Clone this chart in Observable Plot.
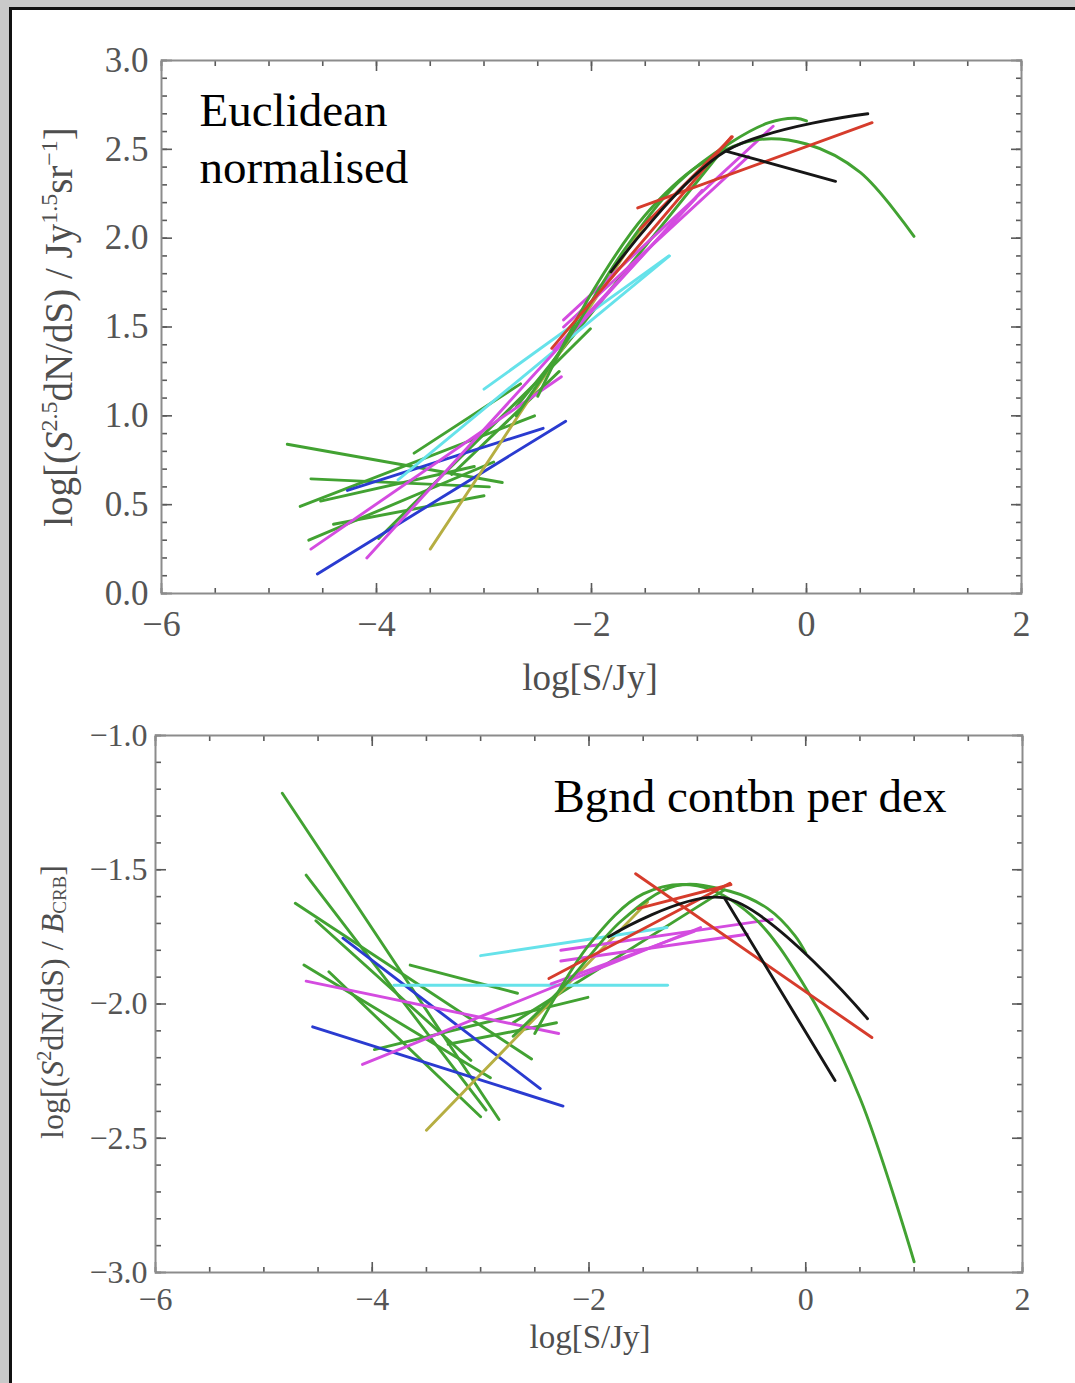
<!DOCTYPE html>
<html>
<head>
<meta charset="utf-8">
<script src="https://cdn.jsdelivr.net/npm/d3@7"></script>
<script src="https://cdn.jsdelivr.net/npm/@observablehq/plot@0.6"></script>
<style>
html, body { margin: 0; padding: 0; background: #c9c9c9; }
#page { position: relative; width: 1075px; height: 1383px; overflow: hidden; background: #c9c9c9; }
#panel { position: absolute; left: 9px; top: 7px; width: 1100px; height: 1420px; background: #fff; border-left: 3px solid #111; border-top: 3px solid #111; }
#top, #bottom { position: absolute; left: 0; }
#top { top: 0; }
#bottom { top: 700px; }
</style>
</head>
<body>
<div id="page"><div id="panel"></div><div id="top"></div><div id="bottom"></div></div>
<script>
// ---- data ----
const seriesName = ["G1","G2","G3","G4","G5","G6","G7","G8","G9","G10",
  "B1","B2","Y1","C1","C2","M1","M2","M3","M4","M5","GC1","GC2","R1","R2","R3","K1","K2"];
const seriesFamily = ["fam-g","fam-g","fam-g","fam-g","fam-g","fam-g","fam-g","fam-g","fam-g","fam-g",
  "fam-b","fam-b","fam-y","fam-c","fam-c","fam-m","fam-m","fam-m","fam-m","fam-m","fam-g","fam-g","fam-r","fam-r","fam-r","fam-k","fam-k"];
// log[S/Jy]
const seriesLogS = [
  [-4.83,-2.83],[-4.61,-2.95],[-4.71,-2.53],[-4.63,-2.91],[-4.40,-3.00],[-4.52,-3.09],[-3.65,-2.66],[-3.98,-2.01],[-3.30,-2.30],[-2.70,-0.75],
  [-4.55,-2.24],[-4.27,-2.45],[-3.50,-1.46],[-3.80,-1.275],[-3.00,-1.28],
  [-4.61,-2.28],[-4.09,-0.97],[-2.26,-0.31],[-2.26,-0.54],[-2.35,-1.03],
  [-2.5,-2.0,-1.5,-1.0,-0.5,0.0,0.5,1.0],
  [-2.7,-2.2,-1.7,-1.2,-0.7,-0.35,-0.1,0.0],
  [-1.57,0.61],[-2.37,-0.70],[-1.55,-0.69],
  [-1.82,-0.75,0.57],[-0.75,0.27]
];
// top panel: log[(S^2.5 dN/dS) / Jy^1.5 sr^-1]
const euclidNorm = [
  [0.84,0.625],[0.645,0.60],[0.49,1.00],[0.30,0.74],[0.39,0.55],[0.52,0.715],[0.79,1.18],[0.31,1.49],[0.67,1.25],[1.05,2.52],
  [0.11,0.97],[0.58,0.93],[0.25,2.12],[0.64,1.90],[1.15,1.90],
  [0.25,1.22],[0.20,2.27],[1.54,2.63],[1.50,2.46],[1.37,2.225],
  [1.11,1.69,2.13,2.41,2.55,2.53,2.37,2.01],
  [1.00,1.45,1.93,2.31,2.54,2.65,2.675,2.66],
  [2.17,2.65],[1.38,2.57],[2.05,2.57],
  [1.81,2.49,2.70],[2.49,2.32]
];
// bottom panel: log[(S^2 dN/dS) / B_CRB]
const bgndPerDex = [
  [-1.215,-2.43],[-1.52,-2.395],[-1.625,-2.205],[-1.855,-2.275],[-1.88,-2.42],[-1.69,-2.21],[-1.855,-1.96],[-2.17,-1.975],[-2.15,-2.07],[-2.07,-1.575],
  [-2.085,-2.38],[-1.755,-2.315],[-2.47,-1.62],[-1.93,-1.93],[-1.82,-1.715],
  [-1.915,-2.11],[-2.225,-1.715],[-1.80,-1.685],[-1.84,-1.74],[-1.925,-1.73],
  [-2.11,-1.78,-1.59,-1.56,-1.67,-1.94,-2.35,-2.96],
  [-2.12,-1.92,-1.69,-1.56,-1.58,-1.645,-1.745,-1.81],
  [-1.515,-2.125],[-1.905,-1.55],[-1.645,-1.555],
  [-1.75,-1.605,-2.055],[-1.605,-2.285]
];
const familyDomain = ["fam-g","fam-b","fam-m","fam-c","fam-y","fam-r","fam-k"];
const xMajorTicks = [-6,-4,-2,0,2];
const topYMajorTicks = [0,0.5,1,1.5,2,2.5,3];
const botYMajorTicks = [-3,-2.5,-2,-1.5,-1];
const panelNotes = ["Euclidean\nnormalised", "Bgnd contbn per dex"];
const xTitle = "log[S/Jy]";

// ---- styles ----
const familyColour = ["#42a232","#2a3bd0","#d44ce0","#66e2ea","#b6ae42","#d63c2c","#161616"];
const SERIF = "'Liberation Serif', 'Times New Roman', serif";

function makePanel(cfg) {
  const rows = [];
  seriesName.forEach((name, i) => {
    seriesLogS[i].forEach((x, j) => rows.push({name, family: seriesFamily[i], x, y: cfg.values[i][j]}));
  });
  const xMinor = d3.range(-6, 2.0001, 0.5);
  const yMinor = d3.range(cfg.domain[0], cfg.domain[1] + 1e-6, 0.1);
  const tc = {tickFormat: () => "", label: null, stroke: "#5a5a5a", strokeWidth: 1.6};
  return Plot.plot({
    width: 1075, height: cfg.height,
    marginTop: cfg.mt, marginBottom: cfg.mb, marginLeft: cfg.ml, marginRight: cfg.mr,
    x: {domain: [-6, 2], label: null},
    y: {domain: cfg.domain, label: null},
    color: {type: "ordinal", domain: familyDomain, range: familyColour},
    style: {background: "transparent", fontFamily: SERIF, overflow: "visible"},
    marks: [
      Plot.axisX(xMinor, {anchor: "bottom", tickSize: -5, ...tc}),
      Plot.axisX(xMinor, {anchor: "top", tickSize: -5, ...tc}),
      Plot.axisX(xMajorTicks, {anchor: "bottom", tickSize: -10, ...tc}),
      Plot.axisX(xMajorTicks, {anchor: "top", tickSize: -10, ...tc}),
      Plot.axisY(yMinor, {anchor: "left", tickSize: -6, ...tc}),
      Plot.axisY(yMinor, {anchor: "right", tickSize: -6, ...tc}),
      Plot.axisY(cfg.yMajor, {anchor: "left", tickSize: -11, ...tc}),
      Plot.axisY(cfg.yMajor, {anchor: "right", tickSize: -11, ...tc}),
      Plot.line(rows, {x: "x", y: "y", z: "name", stroke: "family", strokeWidth: 2.9, curve: "catmull-rom"}),
      Plot.frame({stroke: "#8c8c8c", strokeWidth: 2}),
      Plot.axisX(xMajorTicks, {anchor: "bottom", tickSize: 0, tickPadding: cfg.xPad, fontSize: cfg.xFont, fill: "#555", label: null, tickFormat: d3.format("d")}),
      Plot.axisY(cfg.yMajor, {anchor: "left", tickSize: 0, tickPadding: cfg.yPad, fontSize: cfg.yFont, fill: "#555", label: null, tickFormat: d3.format(".1f")}),
      Plot.text([cfg.note], {text: d => d, frameAnchor: "top-left", dx: cfg.noteDx, dy: cfg.noteDy,
        textAnchor: "start", lineAnchor: "top", lineHeight: 1.21, fontSize: 47, fill: "#000"})
    ]
  });
}

function addLabel(svg, {x, y, rotate, size, parts}) {
  const t = d3.select(svg).append("text")
    .attr("transform", `translate(${x},${y})` + (rotate ? ` rotate(${rotate})` : ""))
    .attr("text-anchor", "middle").attr("font-family", SERIF)
    .attr("font-size", size).attr("fill", "#4e4e4e");
  parts.forEach(p => {
    const s = t.append("tspan").text(p.t);
    if (p.size) s.attr("font-size", p.size);
    if (p.dy) s.attr("dy", p.dy);
    if (p.italic) s.attr("font-style", "italic");
  });
}

const topChart = makePanel({
  values: euclidNorm, domain: [0, 3], yMajor: topYMajorTicks,
  height: 720, mt: 60, mb: 127, ml: 161, mr: 54,
  xPad: 17, xFont: 36, yPad: 13, yFont: 35,
  note: panelNotes[0], noteDx: 38, noteDy: 25
});
addLabel(topChart, {x: 590, y: 690, size: 37, parts: [{t: xTitle}]});
addLabel(topChart, {x: 72, y: 327, rotate: -90, size: 39, parts: [
  {t: "log[("}, {t: "S", italic: true}, {t: "2.5", size: 24, dy: -15},
  {t: "dN/dS) / Jy", dy: 15}, {t: "1.5", size: 24, dy: -15},
  {t: "sr", dy: 15}, {t: "\u22121", size: 24, dy: -15}, {t: "]", dy: 15}
]});
document.getElementById("top").appendChild(topChart);

const botChart = makePanel({
  values: bgndPerDex, domain: [-3, -1], yMajor: botYMajorTicks,
  height: 683, mt: 35, mb: 111, ml: 155, mr: 53,
  xPad: 15, xFont: 32, yPad: 8, yFont: 32,
  note: panelNotes[1], noteDx: 398, noteDy: 36
});
addLabel(botChart, {x: 590, y: 648, size: 33, parts: [{t: xTitle}]});
addLabel(botChart, {x: 63, y: 302, rotate: -90, size: 32, parts: [
  {t: "log[("}, {t: "S", italic: true}, {t: "2", size: 20, dy: -12},
  {t: "dN/dS) / ", dy: 12}, {t: "B", italic: true}, {t: "CRB", size: 19, dy: 3}, {t: "]", dy: -3}
]});
document.getElementById("bottom").appendChild(botChart);
</script>
</body>
</html>
